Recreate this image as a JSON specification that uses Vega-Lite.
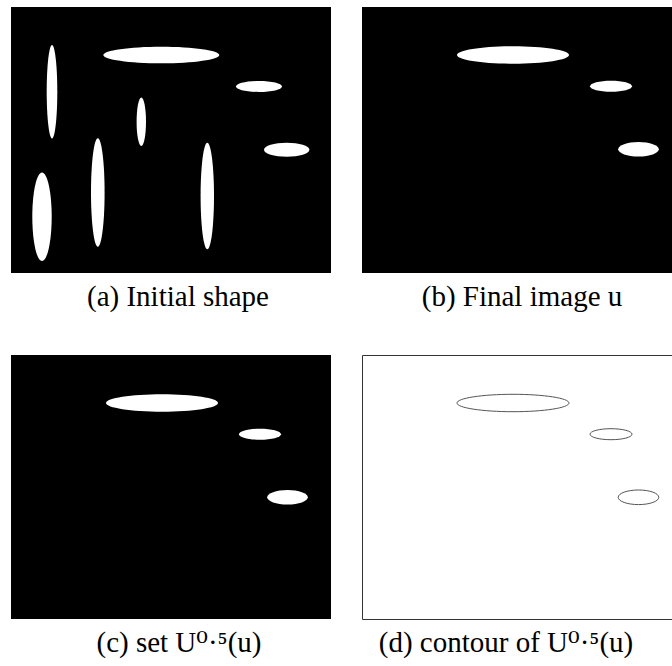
{
  "$schema": "https://vega.github.io/schema/vega-lite/v6.json",
  "padding": {"left": 11, "top": 7, "right": 0, "bottom": 0},
  "background": "white",
  "bounds": "flush",
  "columns": 2,
  "spacing": {"row": 82, "column": 31},
  "resolve": {"scale": {"shape": "independent", "size": "independent"}},
  "config": {
    "title": {"font": "'Liberation Serif', 'DejaVu Serif', serif", "fontSize": 29, "fontWeight": "normal", "color": "black", "orient": "bottom", "anchor": "middle", "offset": 10}
  },
  "datasets": {
    "initial": [
      {"name": "i1", "cx": 41, "cy": 84.7, "w": 10.6, "h": 93.4},
      {"name": "i2", "cx": 150.3, "cy": 48, "w": 116, "h": 16.6},
      {"name": "i3", "cx": 248, "cy": 79.5, "w": 46, "h": 11},
      {"name": "i4", "cx": 130.3, "cy": 114.8, "w": 9.4, "h": 48.4},
      {"name": "i5", "cx": 275.7, "cy": 142.7, "w": 45.4, "h": 14},
      {"name": "i6", "cx": 31, "cy": 209.7, "w": 19.4, "h": 88.6},
      {"name": "i7", "cx": 86.8, "cy": 185.5, "w": 13.6, "h": 108.4},
      {"name": "i8", "cx": 196.3, "cy": 189, "w": 13.4, "h": 106.6}
    ],
    "final": [
      {"name": "f1", "cx": 151, "cy": 48, "w": 112, "h": 17.4},
      {"name": "f2", "cx": 249, "cy": 79.2, "w": 42, "h": 11},
      {"name": "f3", "cx": 276.5, "cy": 142.3, "w": 40.6, "h": 14.6}
    ]
  },
  "concat": [
    {
      "width": 320, "height": 266,
      "view": {"fill": "black", "stroke": null},
      "title": {"text": "(a) Initial shape", "orient": "bottom", "dx": 7},
      "data": {"name": "initial"},
      "mark": {"type": "point", "filled": true, "fill": "white", "strokeWidth": 0, "opacity": 1},
      "encoding": {
        "x": {"field": "cx", "type": "quantitative", "scale": {"domain": [0, 320], "nice": false, "zero": false}, "axis": null},
        "y": {"field": "cy", "type": "quantitative", "scale": {"domain": [0, 266], "nice": false, "zero": false, "reverse": true}, "axis": null},
        "size": {"field": "w", "type": "quantitative", "scale": {"type": "pow", "exponent": 2, "domain": [0, 100], "range": [0, 10000]}, "legend": null},
        "shape": {"field": "name", "type": "nominal", "legend": null, "scale": {
          "domain": ["i1", "i2", "i3", "i4", "i5", "i6", "i7", "i8"],
          "range": [
            "M1,0C1,4.866,0.5523,8.811,0,8.811C-0.5523,8.811,-1,4.866,-1,0C-1,-4.866,-0.5523,-8.811,0,-8.811C0.5523,-8.811,1,-4.866,1,0Z",
            "M1,0C1,0.079,0.5523,0.1431,0,0.1431C-0.5523,0.1431,-1,0.079,-1,0C-1,-0.079,-0.5523,-0.1431,0,-0.1431C0.5523,-0.1431,1,-0.079,1,0Z",
            "M1,0C1,0.1321,0.5523,0.2391,0,0.2391C-0.5523,0.2391,-1,0.1321,-1,0C-1,-0.1321,-0.5523,-0.2391,0,-0.2391C0.5523,-0.2391,1,-0.1321,1,0Z",
            "M1,0C1,2.844,0.5523,5.149,0,5.149C-0.5523,5.149,-1,2.844,-1,0C-1,-2.844,-0.5523,-5.149,0,-5.149C0.5523,-5.149,1,-2.844,1,0Z",
            "M1,0C1,0.1703,0.5523,0.3084,0,0.3084C-0.5523,0.3084,-1,0.1703,-1,0C-1,-0.1703,-0.5523,-0.3084,0,-0.3084C0.5523,-0.3084,1,-0.1703,1,0Z",
            "M1,0C1,2.522,0.5523,4.567,0,4.567C-0.5523,4.567,-1,2.522,-1,0C-1,-2.522,-0.5523,-4.567,0,-4.567C0.5523,-4.567,1,-2.522,1,0Z",
            "M1,0C1,4.402,0.5523,7.971,0,7.971C-0.5523,7.971,-1,4.402,-1,0C-1,-4.402,-0.5523,-7.971,0,-7.971C0.5523,-7.971,1,-4.402,1,0Z",
            "M1,0C1,4.394,0.5523,7.955,0,7.955C-0.5523,7.955,-1,4.394,-1,0C-1,-4.394,-0.5523,-7.955,0,-7.955C0.5523,-7.955,1,-4.394,1,0Z"
          ]}}
      }
    },
    {
      "width": 310, "height": 266,
      "view": {"fill": "black", "stroke": null},
      "title": {"text": "(b) Final image u", "orient": "bottom", "dx": 5},
      "data": {"name": "final"},
      "mark": {"type": "point", "filled": true, "fill": "white", "strokeWidth": 0, "opacity": 1},
      "encoding": {
        "x": {"field": "cx", "type": "quantitative", "scale": {"domain": [0, 310], "nice": false, "zero": false}, "axis": null},
        "y": {"field": "cy", "type": "quantitative", "scale": {"domain": [0, 266], "nice": false, "zero": false, "reverse": true}, "axis": null},
        "size": {"field": "w", "type": "quantitative", "scale": {"type": "pow", "exponent": 2, "domain": [0, 100], "range": [0, 10000]}, "legend": null},
        "shape": {"field": "name", "type": "nominal", "legend": null, "scale": {
          "domain": ["f1", "f2", "f3"],
          "range": [
            "M1,0C1,0.0858,0.5523,0.1554,0,0.1554C-0.5523,0.1554,-1,0.0858,-1,0C-1,-0.0858,-0.5523,-0.1554,0,-0.1554C0.5523,-0.1554,1,-0.0858,1,0Z",
            "M1,0C1,0.1447,0.5523,0.2619,0,0.2619C-0.5523,0.2619,-1,0.1447,-1,0C-1,-0.1447,-0.5523,-0.2619,0,-0.2619C0.5523,-0.2619,1,-0.1447,1,0Z",
            "M1,0C1,0.1986,0.5523,0.3596,0,0.3596C-0.5523,0.3596,-1,0.1986,-1,0C-1,-0.1986,-0.5523,-0.3596,0,-0.3596C0.5523,-0.3596,1,-0.1986,1,0Z"
          ]}}
      }
    },
    {
      "width": 320, "height": 264,
      "view": {"fill": "black", "stroke": null},
      "title": {"text": "(c) set U⁰·⁵(u)", "orient": "bottom", "dx": 8},
      "data": {"name": "final"},
      "mark": {"type": "point", "filled": true, "fill": "white", "strokeWidth": 0, "opacity": 1},
      "encoding": {
        "x": {"field": "cx", "type": "quantitative", "scale": {"domain": [0, 320], "nice": false, "zero": false}, "axis": null},
        "y": {"field": "cy", "type": "quantitative", "scale": {"domain": [0, 264], "nice": false, "zero": false, "reverse": true}, "axis": null},
        "size": {"field": "w", "type": "quantitative", "scale": {"type": "pow", "exponent": 2, "domain": [0, 100], "range": [0, 10000]}, "legend": null},
        "shape": {"field": "name", "type": "nominal", "legend": null, "scale": {
          "domain": ["f1", "f2", "f3"],
          "range": [
            "M1,0C1,0.0858,0.5523,0.1554,0,0.1554C-0.5523,0.1554,-1,0.0858,-1,0C-1,-0.0858,-0.5523,-0.1554,0,-0.1554C0.5523,-0.1554,1,-0.0858,1,0Z",
            "M1,0C1,0.1447,0.5523,0.2619,0,0.2619C-0.5523,0.2619,-1,0.1447,-1,0C-1,-0.1447,-0.5523,-0.2619,0,-0.2619C0.5523,-0.2619,1,-0.1447,1,0Z",
            "M1,0C1,0.1986,0.5523,0.3596,0,0.3596C-0.5523,0.3596,-1,0.1986,-1,0C-1,-0.1986,-0.5523,-0.3596,0,-0.3596C0.5523,-0.3596,1,-0.1986,1,0Z"
          ]}}
      }
    },
    {
      "width": 310, "height": 264,
      "view": {"fill": "white", "stroke": "#333333", "strokeWidth": 1},
      "title": {"text": "(d) contour of U⁰·⁵(u)", "orient": "bottom", "dx": -11},
      "data": {"name": "final"},
      "mark": {"type": "point", "filled": false, "fill": "white", "stroke": "#555555", "strokeWidth": 1, "opacity": 1},
      "encoding": {
        "x": {"field": "cx", "type": "quantitative", "scale": {"domain": [0, 310], "nice": false, "zero": false}, "axis": null},
        "y": {"field": "cy", "type": "quantitative", "scale": {"domain": [0, 264], "nice": false, "zero": false, "reverse": true}, "axis": null},
        "size": {"field": "w", "type": "quantitative", "scale": {"type": "pow", "exponent": 2, "domain": [0, 100], "range": [0, 10000]}, "legend": null},
        "shape": {"field": "name", "type": "nominal", "legend": null, "scale": {
          "domain": ["f1", "f2", "f3"],
          "range": [
            "M1,0C1,0.0858,0.5523,0.1554,0,0.1554C-0.5523,0.1554,-1,0.0858,-1,0C-1,-0.0858,-0.5523,-0.1554,0,-0.1554C0.5523,-0.1554,1,-0.0858,1,0Z",
            "M1,0C1,0.1447,0.5523,0.2619,0,0.2619C-0.5523,0.2619,-1,0.1447,-1,0C-1,-0.1447,-0.5523,-0.2619,0,-0.2619C0.5523,-0.2619,1,-0.1447,1,0Z",
            "M1,0C1,0.1986,0.5523,0.3596,0,0.3596C-0.5523,0.3596,-1,0.1986,-1,0C-1,-0.1986,-0.5523,-0.3596,0,-0.3596C0.5523,-0.3596,1,-0.1986,1,0Z"
          ]}}
      }
    }
  ]
}
